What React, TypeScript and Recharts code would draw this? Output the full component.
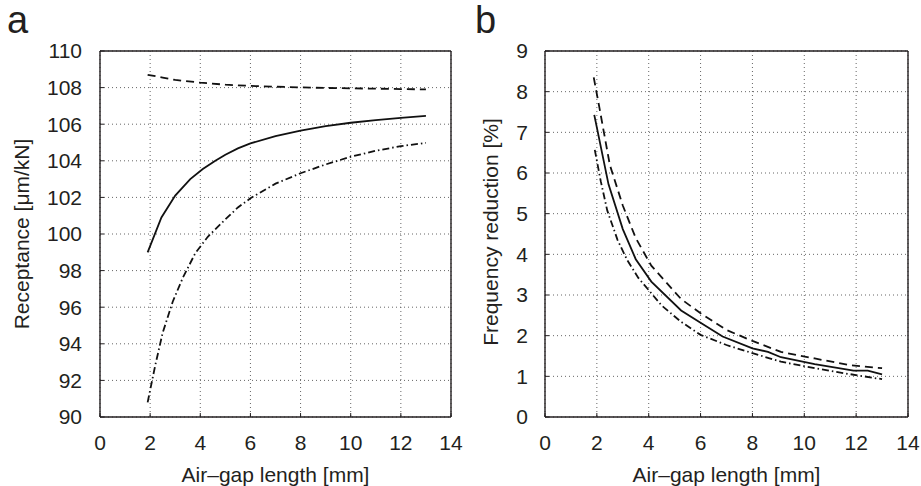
import React from 'react';
import { LineChart, Line, XAxis, YAxis, CartesianGrid } from 'recharts';

const FONT = '"Liberation Sans", Arial, Helvetica, sans-serif';
const INK = '#231f20';

// Tick labels
const gapTicks = [0, 2, 4, 6, 8, 10, 12, 14];
const receptanceTicks = [90, 92, 94, 96, 98, 100, 102, 104, 106, 108, 110];
const reductionTicks = [0, 1, 2, 3, 4, 5, 6, 7, 8, 9];

// Panel a: receptance [um/kN] vs air-gap length [mm]
const recNomGap = [1.9, 2.45, 3.0, 3.6, 4.1, 4.6, 5.0, 5.5, 6.0, 7.0, 8.0, 9.0, 10.0, 11.0, 12.0, 13.0];
const recNomVal = [99.0, 100.9, 102.1, 103.0, 103.55, 104.0, 104.33, 104.68, 104.95, 105.35, 105.65, 105.9, 106.08, 106.22, 106.35, 106.45];
const recUpGap = [1.9, 2.5, 3.0, 4.0, 5.0, 6.0, 7.0, 8.0, 9.0, 10.0, 11.0, 12.0, 13.0];
const recUpVal = [108.7, 108.55, 108.42, 108.27, 108.16, 108.09, 108.05, 108.01, 107.98, 107.96, 107.94, 107.92, 107.9];
const recLoGap = [1.9, 2.2, 2.5, 2.9, 3.3, 3.8, 4.3, 5.0, 5.5, 6.0, 7.0, 8.0, 9.0, 10.0, 11.0, 12.0, 13.0];
const recLoVal = [90.8, 92.8, 94.6, 96.3, 97.6, 98.95, 99.85, 100.8, 101.45, 101.95, 102.75, 103.32, 103.8, 104.22, 104.55, 104.8, 104.98];

// Panel b: frequency reduction [%] vs air-gap length [mm]
const frNomGap = [1.9, 2.45, 3.0, 3.5, 4.1, 5.25, 6.0, 6.85, 8.0, 8.6, 9.1, 10.4, 11.9, 12.45, 13.0];
const frNomVal = [7.43, 5.72, 4.62, 3.88, 3.33, 2.62, 2.32, 1.98, 1.69, 1.6, 1.47, 1.3, 1.14, 1.14, 1.05];
const frUpGap = [1.88, 2.1, 2.5, 3.0, 3.5, 4.1, 5.25, 6.0, 7.0, 8.0, 9.1, 10.4, 11.7, 13.0];
const frUpVal = [8.35, 7.6, 6.2, 5.2, 4.4, 3.72, 2.9, 2.55, 2.14, 1.87, 1.6, 1.44, 1.28, 1.2];
const frLoGap = [1.92, 2.15, 2.4, 2.8, 3.17, 3.6, 4.0, 4.5, 5.25, 6.0, 7.0, 8.0, 9.1, 10.4, 11.7, 13.0];
const frLoVal = [6.57, 5.8, 5.08, 4.35, 3.86, 3.42, 3.12, 2.74, 2.34, 2.02, 1.77, 1.57, 1.36, 1.2, 1.06, 0.93];

const zip = (xs: number[], ys: number[]) => xs.map((x, i) => ({ x, y: ys[i] }));

type Series = { data: { x: number; y: number }[]; dash?: string };

type PanelProps = {
  width: number;
  yWidth: number;
  marginRight: number;
  yDomain: [number, number];
  yTicks: number[];
  yTickMargin: number;
  series: Series[];
};

const tickStyle = { fill: INK, fontSize: 21, fontFamily: FONT };
const axisLineStyle = { stroke: INK, strokeWidth: 1.4 };
const tickLineStyle = { stroke: INK, strokeWidth: 1 };

function Panel({ width, yWidth, marginRight, yDomain, yTicks, yTickMargin, series }: PanelProps) {
  return (
    <LineChart width={width} height={486} margin={{ top: 50, right: marginRight, bottom: 0, left: 0 }}>
      <CartesianGrid xAxisId="b" yAxisId="l" stroke="#666" strokeDasharray="1 3" strokeWidth={1} />
      <XAxis
        xAxisId="b"
        type="number"
        dataKey="x"
        domain={[0, 14]}
        ticks={gapTicks}
        allowDataOverflow
        orientation="bottom"
        height={69}
        tickSize={-4}
        tickMargin={22}
        tick={tickStyle}
        axisLine={axisLineStyle}
        tickLine={tickLineStyle}
        interval={0}
      />
      <XAxis
        xAxisId="t"
        type="number"
        dataKey="x"
        domain={[0, 14]}
        ticks={gapTicks}
        allowDataOverflow
        orientation="top"
        height={1}
        tickSize={-4}
        tick={false}
        axisLine={axisLineStyle}
        tickLine={tickLineStyle}
        interval={0}
      />
      <YAxis
        yAxisId="l"
        type="number"
        domain={yDomain}
        ticks={yTicks}
        allowDataOverflow
        width={yWidth}
        tickSize={-4}
        tickMargin={yTickMargin}
        tick={tickStyle}
        axisLine={axisLineStyle}
        tickLine={tickLineStyle}
        interval={0}
      />
      <YAxis
        yAxisId="r"
        type="number"
        orientation="right"
        domain={yDomain}
        ticks={yTicks}
        allowDataOverflow
        width={1}
        tickSize={-4}
        tick={false}
        axisLine={axisLineStyle}
        tickLine={tickLineStyle}
        interval={0}
      />
      {series.map((s, i) => (
        <Line
          key={i}
          xAxisId="b"
          yAxisId="l"
          data={s.data}
          dataKey="y"
          type="linear"
          stroke="#111"
          strokeWidth={1.8}
          strokeDasharray={s.dash}
          dot={false}
          activeDot={false}
          isAnimationActive={false}
        />
      ))}
    </LineChart>
  );
}

const DASH = '8 5';
const DASHDOT = '7 3 1.5 3';

export default function App() {
  return (
    <div style={{ position: 'absolute', left: 0, top: 0, width: 921, height: 486, background: '#fff', overflow: 'hidden' }}>
      <style>{'.recharts-surface{overflow:visible !important}.recharts-wrapper{overflow:visible !important}'}</style>
      <div style={{ position: 'absolute', left: 0, top: 0 }}>
        <Panel
          width={460}
          yWidth={100}
          marginRight={8}
          yDomain={[90, 110]}
          yTicks={receptanceTicks}
          yTickMargin={22}
          series={[
            { data: zip(recNomGap, recNomVal) },
            { data: zip(recUpGap, recUpVal), dash: DASH },
            { data: zip(recLoGap, recLoVal), dash: DASHDOT },
          ]}
        />
      </div>
      <div style={{ position: 'absolute', left: 460, top: 0 }}>
        <Panel
          width={461}
          yWidth={85}
          marginRight={12}
          yDomain={[0, 9]}
          yTicks={reductionTicks}
          yTickMargin={21}
          series={[
            { data: zip(frNomGap, frNomVal) },
            { data: zip(frUpGap, frUpVal), dash: DASH },
            { data: zip(frLoGap, frLoVal), dash: DASHDOT },
          ]}
        />
      </div>
      <svg
        width={921}
        height={486}
        style={{ position: 'absolute', left: 0, top: 0, pointerEvents: 'none' }}
        fontFamily={FONT}
        fill={INK}
      >
        <text x={7} y={33} fontSize={38}>a</text>
        <text x={475} y={33} fontSize={38}>b</text>
        <text x={275.5} y={482} fontSize={21} textAnchor="middle">Air–gap length [mm]</text>
        <text x={726.5} y={482} fontSize={21} textAnchor="middle">Air–gap length [mm]</text>
        <text x={29} y={234} fontSize={21} textAnchor="middle" transform="rotate(-90 29 234)">Receptance [μm/kN]</text>
        <text x={498} y={232} fontSize={21} textAnchor="middle" transform="rotate(-90 498 232)">Frequency reduction [%]</text>
      </svg>
    </div>
  );
}
